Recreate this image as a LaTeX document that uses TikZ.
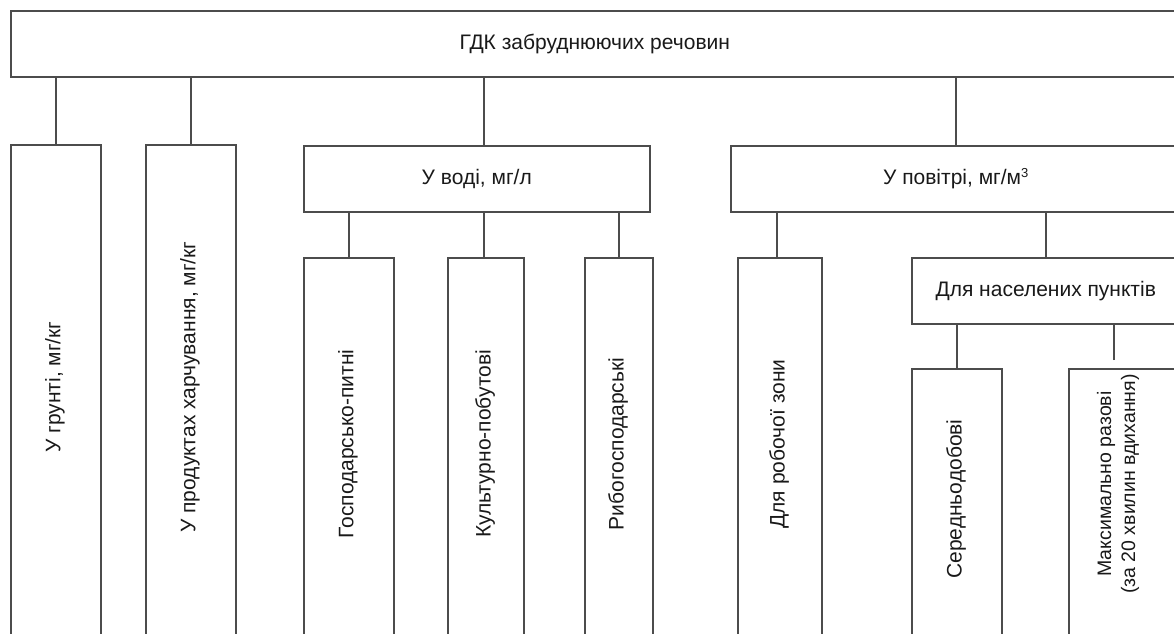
\documentclass[tikz,border=0pt]{standalone}
\usepackage{fontspec}
\setmainfont{Liberation Sans}
\definecolor{linecol}{gray}{0.3}
\definecolor{txtcol}{gray}{0.1}
\newcommand{\supthree}{{\fontsize{13}{13}\selectfont\raisebox{1.05ex}{3}}}
\begin{document}
\begin{tikzpicture}[x=1pt,y=-1pt,
  box/.style={draw=linecol, line width=1.5pt, inner sep=0pt, anchor=north west, text=txtcol, font=\fontsize{21}{25}\selectfont},
  txt/.style={text=txtcol, font=\fontsize{21}{25}\selectfont, inner sep=0pt, rotate=90, align=center},
  conn/.style={draw=linecol, line width=1.5pt}]
\useasboundingbox (0,0) rectangle (1174,633);
\clip (0,0) rectangle (1174,633);
% level 1
\node[box, minimum width=1168, minimum height=66] (top) at (10,10) {ГДК забруднюючих речовин};
% level 2
\node[box, minimum width=90, minimum height=520] (g1) at (10,144) {};
\node[box, minimum width=90, minimum height=520] (g2) at (145,144) {};
\node[box, minimum width=346, minimum height=66] (voda) at (303,145) {У воді, мг/л};
\node[box, minimum width=450, minimum height=66] (pov) at (730,145) {У повітрі, мг/м\supthree};
% level 3
\node[box, minimum width=90, minimum height=420] (gp) at (303,257) {};
\node[box, minimum width=76, minimum height=420] (kp) at (447,257) {};
\node[box, minimum width=68, minimum height=420] (rg) at (584,257) {};
\node[box, minimum width=84, minimum height=420] (rz) at (737,257) {};
\node[box, minimum width=268, minimum height=66] (nas) at (911,257) {Для населених пунктів};
% level 4
\node[box, minimum width=90, minimum height=300] (sd) at (911,368) {};
\node[box, minimum width=120, minimum height=300] (mr) at (1068,368) {};
% texts
\node[txt] (t1) at (55,387) {У грунті, мг/кг};
\node[txt] (t2) at (190,387) {У продуктах харчування, мг/кг};
\node[txt] (t3) at (348,444) {Господарсько-питні};
\node[txt] (t4) at (485,444) {Культурно-побутові};
\node[txt] (t5) at (618,444) {Рибогосподарські};
\node[txt] (t6) at (779,444) {Для робочої зони};
\node[txt] (t7) at (956,499) {Середньодобові};
\node[txt, font=\fontsize{19.5}{24}\selectfont] (t8) at (1118,484) {Максимально разові\\(за 20 хвилин вдихання)};
% connectors
\draw[conn] (g1.north) -- (g1.north |- top.south);
\draw[conn] (g2.north) -- (g2.north |- top.south);
\draw[conn] ([xshift=7pt]voda.north) -- ([xshift=7pt]voda.north |- top.south);
\draw[conn] (pov.north) -- (pov.north |- top.south);
\draw[conn] (gp.north) -- (gp.north |- voda.south);
\draw[conn] ([xshift=-2pt]kp.north) -- ([xshift=-2pt]kp.north |- voda.south);
\draw[conn] (rg.north) -- (rg.north |- voda.south);
\draw[conn] ([xshift=-3pt]rz.north) -- ([xshift=-3pt]rz.north |- pov.south);
\draw[conn] (nas.north) -- (nas.north |- pov.south);
\draw[conn] (sd.north) -- (sd.north |- nas.south);
\draw[conn, shorten <=8pt] ([xshift=-15pt]mr.north) -- ([xshift=-15pt]mr.north |- nas.south);
\end{tikzpicture}
\end{document}
